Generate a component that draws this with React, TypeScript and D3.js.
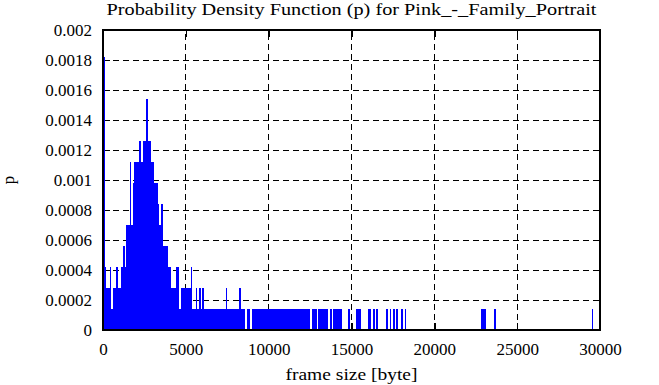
import { useEffect, useRef } from "react";
import * as d3 from "d3";

// histogram of frame sizes, 100-byte bins starting at 0
const binWidth = 100;
const densityPerFrame = 0.00014;
const binCounts = [
  13, 3, 2, 2, 3, 1, 2, 2, 3, 2,
  2, 3, 4, 3, 5, 5, 8, 5, 7, 8,
  8, 8, 9, 8, 9, 9, 11, 9, 9, 8,
  8, 7, 7, 6, 5, 6, 4, 4, 4, 3,
  3, 2, 2, 2, 3, 3, 1, 2, 2, 2,
  2, 2, 2, 3, 1, 1, 2, 1, 2, 1,
  2, 1, 1, 1, 1, 1, 1, 1, 1, 1,
  1, 1, 1, 1, 2, 1, 1, 1, 1, 1,
  1, 1, 2, 1, 1, 1, 0, 1, 1, 0,
  1, 1, 1, 1, 1, 1, 1, 1, 1, 1,
  1, 1, 1, 1, 1, 1, 1, 1, 1, 1,
  1, 1, 1, 1, 1, 1, 1, 1, 1, 1,
  1, 1, 1, 1, 1, 0, 1, 1, 1, 0,
  1, 1, 1, 1, 1, 1, 0, 1, 0, 1,
  1, 1, 1, 1, 0, 0, 0, 0, 1, 0,
  0, 0, 0, 1, 1, 1, 0, 0, 0, 0,
  1, 1, 0, 1, 0, 1, 0, 0, 0, 0,
  0, 1, 0, 1, 0, 1, 0, 1, 0, 0,
  1, 0, 1, 0, 0, 0, 0, 0, 0, 0
];
// a few very large frames further out (single frames)
const isolatedBins = [228, 229, 230, 236, 295];

const xTicks = [0, 5000, 10000, 15000, 20000, 25000, 30000];
const yTicks = [0, 0.0002, 0.0004, 0.0006, 0.0008, 0.001, 0.0012, 0.0014, 0.0016, 0.0018, 0.002];

const title = "Probability Density Function (p) for Pink_-_Family_Portrait";
const xLabel = "frame size [byte]";
const yLabel = "p";

export default function App() {
  const ref = useRef<SVGSVGElement>(null);

  useEffect(() => {
    const width = 659;
    const height = 385;
    const marginTop = 30;
    const marginRight = 59;
    const marginBottom = 55;
    const marginLeft = 103;
    const font = "Liberation Serif, DejaVu Serif, Times, serif";

    const bins = binCounts
      .map((c, i) => ({ start: i * binWidth, p: c * densityPerFrame }))
      .concat(isolatedBins.map(b => ({ start: b * binWidth, p: densityPerFrame })))
      .filter(d => d.p > 0);

    const svg = d3.select(ref.current);
    svg.selectAll("*").remove();
    svg.attr("width", width).attr("height", height).attr("viewBox", [0, 0, width, height])
      .style("font-family", font).style("font-size", "17px");

    const x = d3.scaleLinear().domain([0, 30000]).range([marginLeft, width - marginRight]);
    const y = d3.scaleLinear().domain([0, 0.002]).range([height - marginBottom, marginTop]);

    svg.append("rect").attr("width", width).attr("height", height).attr("fill", "white");

    // grid
    svg.append("g")
      .attr("stroke", "black")
      .attr("stroke-dasharray", "6,4")
      .attr("shape-rendering", "crispEdges")
      .call(g => g.selectAll(".gx")
        .data(xTicks.slice(1, -1))
        .join("line")
          .attr("x1", d => x(d)).attr("x2", d => x(d))
          .attr("y1", y(0)).attr("y2", y(0.002)))
      .call(g => g.selectAll(".gy")
        .data(yTicks.slice(1, -1))
        .join("line")
          .attr("class", "gy")
          .attr("x1", x(0)).attr("x2", x(30000))
          .attr("y1", d => y(d)).attr("y2", d => y(d)));

    const styleAxis = (g: any) => {
      g.attr("font-family", null).attr("font-size", null);
      g.select(".domain").remove();
      g.selectAll("line").attr("stroke-width", 1.5).attr("shape-rendering", "crispEdges");
      g.selectAll("text").style("font-family", font).style("font-size", "17px").attr("fill", "black");
    };

    svg.append("g")
      .attr("transform", `translate(0,${y(0)})`)
      .call(d3.axisBottom(x).tickValues(xTicks).tickFormat(d3.format("d")).tickSizeInner(-7).tickSizeOuter(0).tickPadding(13))
      .call(styleAxis);
    svg.append("g")
      .attr("transform", `translate(0,${y(0.002)})`)
      .call(d3.axisTop(x).tickValues(xTicks).tickFormat(() => "").tickSizeInner(-7).tickSizeOuter(0))
      .call(styleAxis);
    svg.append("g")
      .attr("transform", `translate(${x(0)},0)`)
      .call(d3.axisLeft(y).tickValues(yTicks).tickFormat(d => d === 0 ? "0" : String(+(+d).toFixed(4))).tickSizeInner(-7).tickSizeOuter(0).tickPadding(11))
      .call(styleAxis);
    svg.append("g")
      .attr("transform", `translate(${x(30000)},0)`)
      .call(d3.axisRight(y).tickValues(yTicks).tickFormat(() => "").tickSizeInner(-7).tickSizeOuter(0))
      .call(styleAxis);

    // bars
    svg.append("g")
      .attr("fill", "#0000ff")
      .attr("shape-rendering", "crispEdges")
      .selectAll("rect")
      .data(bins)
      .join("rect")
        .attr("x", d => x(d.start))
        .attr("width", d => Math.max(1.5, x(d.start + binWidth) - x(d.start)))
        .attr("y", d => y(d.p))
        .attr("height", d => y(0) - y(d.p));

    // border
    svg.append("rect")
      .attr("x", x(0)).attr("y", y(0.002))
      .attr("width", x(30000) - x(0)).attr("height", y(0) - y(0.002))
      .attr("fill", "none").attr("stroke", "black").attr("stroke-width", 2)
      .attr("shape-rendering", "crispEdges");

    // labels
    svg.append("text")
      .attr("x", (x(0) + x(30000)) / 2).attr("y", 15)
      .attr("text-anchor", "middle")
      .attr("textLength", 490).attr("lengthAdjust", "spacingAndGlyphs")
      .text(title);
    svg.append("text")
      .attr("x", (x(0) + x(30000)) / 2).attr("y", 380)
      .attr("text-anchor", "middle")
      .attr("textLength", 132).attr("lengthAdjust", "spacingAndGlyphs")
      .text(xLabel);
    svg.append("text")
      .attr("transform", `translate(14,${(y(0) + y(0.002)) / 2}) rotate(-90)`)
      .attr("text-anchor", "middle")
      .text(yLabel);
  }, []);

  return <svg ref={ref} style={{ position: "absolute", left: 0, top: 0 }}></svg>;
}
